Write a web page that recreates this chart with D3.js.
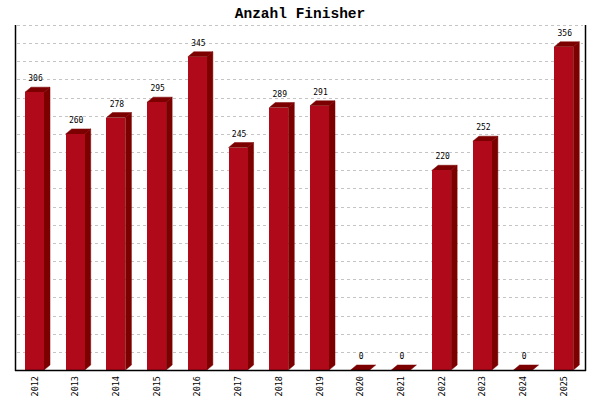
<!DOCTYPE html>
<html><head><meta charset="utf-8">
<script src="https://cdn.jsdelivr.net/npm/d3@7"></script>
<style>body{margin:0;background:#fff}svg{display:block}</style>
</head><body>
<script>
const categories = ["2012","2013","2014","2015","2016","2017","2018","2019","2020","2021","2022","2023","2024","2025"];
const values = [306,260,278,295,345,245,289,291,0,0,220,252,0,356];
const yTicks = d3.range(0, 381, 20);
const title = "Anzahl Finisher";

(function () {
const W = 600, H = 400;
const pL = 15, pR = 585, pT = 25, pB = 370;
const depthX = 6, depthY = 5;
const frontCol = "#B00A1A", darkCol = "#7C0000";

const svg = d3.select("body").append("svg").attr("width", W).attr("height", H);

const x = d3.scaleBand().domain(categories).range([pL, pR]).padding(0);
const y = d3.scaleLinear().domain([0, 380]).range([pB, pT]);
const bw = 19, off = 10;

svg.append("g").selectAll("line").data(yTicks.filter(t => t > 0)).join("line")
  .attr("x1", pL + 2).attr("x2", pR - 2)
  .attr("y1", d => Math.round(y(d)) + 0.5).attr("y2", d => Math.round(y(d)) + 0.5)
  .attr("stroke", "#c4c4c4").attr("stroke-dasharray", "3,3");

svg.append("text").attr("x", 300).attr("y", 18).attr("text-anchor", "middle")
  .attr("font-family", "Liberation Mono, DejaVu Sans Mono, monospace")
  .attr("font-weight", "bold").attr("font-size", 14.5).text(title);

const data = categories.map((c, i) => ({c, v: values[i]}));
const g = svg.append("g");
data.forEach(d => {
  const x0 = x(d.c) + off, x1 = x0 + bw;
  const yt = y(d.v);
  if (d.v > 0) {
    g.append("polygon").attr("fill", darkCol).attr("stroke", darkCol).attr("stroke-width", 0.5)
      .attr("points", [[x1, yt], [x1 + depthX, yt - depthY], [x1 + depthX, pB - depthY], [x1, pB]].join(" "));
  }
  g.append("polygon").attr("fill", darkCol).attr("stroke", darkCol).attr("stroke-width", 0.5)
    .attr("points", [[x0, yt], [x0 + depthX, yt - depthY], [x1 + depthX, yt - depthY], [x1, yt]].join(" "));
  if (d.v > 0) {
    g.append("rect").attr("x", x0).attr("y", yt).attr("width", bw).attr("height", pB - yt)
      .attr("fill", frontCol).attr("shape-rendering", "crispEdges");
  }
  g.append("text").attr("x", x0 + bw / 2 + 1).attr("y", yt - depthY - 6)
    .attr("text-anchor", "middle").attr("font-family", "DejaVu Sans Mono, monospace")
    .attr("font-size", 8).text(d.v);
  g.append("text").attr("transform", `translate(${x0 + bw / 2 + 3},376) rotate(-90)`)
    .attr("text-anchor", "end").attr("font-family", "DejaVu Sans Mono, monospace")
    .attr("font-size", 8.5).text(d.c);
});

svg.append("line").attr("x1", pL + 0.5).attr("x2", pL + 0.5).attr("y1", pT).attr("y2", pB + 1).attr("stroke", "#000").attr("stroke-width", 1.5);
svg.append("line").attr("x1", pR + 0.5).attr("x2", pR + 0.5).attr("y1", pT).attr("y2", pB + 1).attr("stroke", "#000").attr("stroke-width", 1.5);
svg.append("line").attr("x1", pL).attr("x2", pR + 1).attr("y1", pB + 0.5).attr("y2", pB + 0.5).attr("stroke", "#000").attr("stroke-width", 1.5);
})();
</script>
</body></html>
